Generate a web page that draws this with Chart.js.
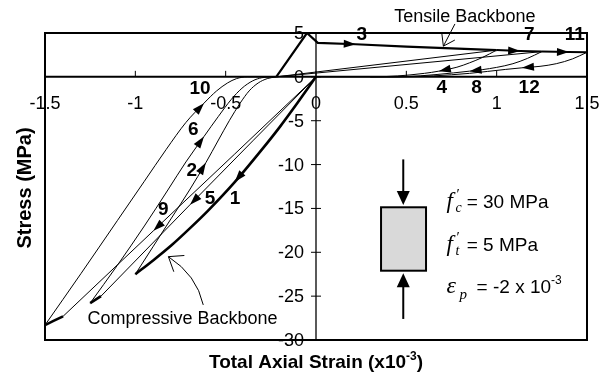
<!DOCTYPE html>
<html>
<head>
<meta charset="utf-8">
<script src="https://cdn.jsdelivr.net/npm/chart.js@4"></script>
<style>
  html, body { margin: 0; padding: 0; background: #fff; }
  canvas { display: block; }
</style>
</head>
<body>
<canvas id="plot1" width="612" height="377"></canvas>
<script>
// strain (x10^-3) , stress (MPa)
const loadC1   = [[0,0],[-0.1,-2.9],[-0.2,-5.7],[-0.3,-8.3],[-0.45,-12.0],[-0.6,-15.3],[-0.7,-17.3],[-0.8,-19.2],[-0.9,-20.9],[-1.0,-22.5]];
const unload2  = [[-1.0,-22.5],[-0.9,-19.3],[-0.8,-16.1],[-0.7,-12.9],[-0.61,-9.8],[-0.54,-7.2],[-0.48,-5.0],[-0.42,-3.0],[-0.37,-1.6],[-0.32,-0.7],[-0.27,-0.2],[-0.22,0]];
const tension3 = [[-0.22,0],[-0.05,5.0],[0.01,3.88],[0.22,3.72],[0.5,3.45],[0.75,3.25],[1.0,3.05]];
const unload4  = [[1.0,3.05],[0.92,2.2],[0.85,1.6],[0.78,1.1],[0.68,0.65],[0.6,0.4],[0.52,0.22],[0.45,0.1],[0.38,0.03],[0.3,0],[0,0]];
const reload5  = [[0,0],[-0.35,-7.3],[-0.697,-14.57],[-1.19,-25.0]];
const bb5      = [[-1.19,-25.0],[-1.22,-25.4],[-1.25,-25.8]];
const unload6  = [[-1.25,-25.8],[-1.1,-21.5],[-0.95,-17.0],[-0.82,-12.9],[-0.72,-9.7],[-0.62,-6.8],[-0.54,-4.5],[-0.47,-2.6],[-0.41,-1.3],[-0.35,-0.45],[-0.3,-0.1],[-0.25,0],[-0.22,0]];
const reload7  = [[-0.22,0],[1.0,3.05]];
const bb7      = [[1.0,3.05],[1.13,2.95],[1.25,2.88]];
const unload8  = [[1.25,2.88],[1.17,2.1],[1.09,1.5],[1.0,1.08],[0.92,0.82],[0.85,0.65],[0.76,0.45],[0.67,0.27],[0.58,0.12],[0.5,0.03],[0.42,0],[0.3,0]];
const reload9  = [[0,0],[-0.45,-8.8],[-0.9,-17.55],[-1.40,-27.3]];
const bb9      = [[-1.40,-27.3],[-1.45,-27.8],[-1.5,-28.3]];
const unload10 = [[-1.5,-28.3],[-1.3,-22.4],[-1.1,-16.4],[-0.95,-11.9],[-0.83,-8.3],[-0.72,-5.2],[-0.62,-3.0],[-0.55,-1.6],[-0.49,-0.7],[-0.44,-0.2],[-0.38,0],[-0.22,0]];
const reload11 = [[-0.22,0],[1.25,2.88]];
const bb11     = [[1.25,2.88],[1.4,2.82],[1.5,2.8]];
const unload12 = [[1.5,2.8],[1.42,2.05],[1.33,1.5],[1.24,1.2],[1.14,1.03],[1.05,0.85],[0.95,0.62],[0.85,0.4],[0.75,0.24],[0.65,0.11],[0.55,0.03],[0.45,0],[0.3,0]];

const xTicks = [-1.5, -1, -0.5, 0, 0.5, 1, 1.5];
const yTicks = [5, 0, -5, -10, -15, -20, -25, -30];

// cycle numbers: text, strain, stress
const cycleLabels = [['1',-0.448,-13.85],['2',-0.688,-10.7],['3',0.253,4.75],['4',0.696,-1.21],
  ['5',-0.587,-13.85],['6',-0.679,-6.07],['7',1.18,4.75],['8',0.889,-1.21],
  ['9',-0.845,-15.2],['10',-0.642,-1.32],['11',1.433,4.75],['12',1.18,-1.21]];

const SANS = '"Liberation Sans", Arial, sans-serif';
const SERIF = '"Liberation Serif", "Times New Roman", serif';

let curva = (pts, ancho, suave) => ({
    data: pts.map(p => ({x: p[0], y: p[1]})),
    showLine: true,
    borderColor: '#000',
    borderWidth: ancho,
    pointRadius: 0,
    fill: false,
    cubicInterpolationMode: suave ? 'monotone' : 'default',
    tension: 0
})

let datasets = [
    curva(loadC1, 2.6, true),      // 0
    curva(unload2, 1, true),       // 1
    curva(tension3, 2.2, false),   // 2
    curva(unload4, 1, true),       // 3
    curva(reload5, 1, false),      // 4
    curva(bb5, 2.6, false),        // 5
    curva(unload6, 1, true),       // 6
    curva(reload7, 1, false),      // 7
    curva(bb7, 2, false),          // 8
    curva(unload8, 1, true),       // 9
    curva(reload9, 1, false),      // 10
    curva(bb9, 2.6, false),        // 11
    curva(unload10, 1, true),      // 12
    curva(reload11, 1, false),     // 13
    curva(bb11, 2, false),         // 14
    curva(unload12, 1, true)       // 15
]

// arrowheads: dataset index, point index (tip), direction from previous point
const flechas = [[0,4],[1,4],[2,3],[3,4],[4,2],[6,5],[8,1],[9,5],[10,2],[12,6],[14,1],[15,4]];

let punta = (ctx, x0, y0, x1, y1, largo, medio) => {
    const a = Math.atan2(y1 - y0, x1 - x0)
    ctx.beginPath()
    ctx.moveTo(x1, y1)
    ctx.lineTo(x1 - largo*Math.cos(a) + medio*Math.sin(a), y1 - largo*Math.sin(a) - medio*Math.cos(a))
    ctx.lineTo(x1 - largo*Math.cos(a) - medio*Math.sin(a), y1 - largo*Math.sin(a) + medio*Math.cos(a))
    ctx.closePath()
    ctx.fill()
}

let puntaAbierta = (ctx, x0, y0, x1, y1, largo, ang) => {
    const a = Math.atan2(y1 - y0, x1 - x0)
    ctx.beginPath()
    ctx.moveTo(x1 - largo*Math.cos(a - ang), y1 - largo*Math.sin(a - ang))
    ctx.lineTo(x1, y1)
    ctx.lineTo(x1 - largo*Math.cos(a + ang), y1 - largo*Math.sin(a + ang))
    ctx.stroke()
}

const ejes = {
    id: 'ejes',
    beforeDatasetsDraw(chart) {
        const {ctx, chartArea: ca, scales: {x, y}} = chart
        const x0 = x.getPixelForValue(0), y0 = y.getPixelForValue(0)
        ctx.save()
        ctx.strokeStyle = '#000'
        ctx.fillStyle = '#000'
        // marco
        ctx.lineWidth = 2
        ctx.strokeRect(ca.left, ca.top, ca.right - ca.left, ca.bottom - ca.top)
        // eje de deformaciones
        ctx.beginPath(); ctx.moveTo(ca.left, y0); ctx.lineTo(ca.right, y0); ctx.stroke()
        // eje de esfuerzos
        ctx.lineWidth = 1.3
        ctx.beginPath(); ctx.moveTo(x0, ca.top); ctx.lineTo(x0, ca.bottom); ctx.stroke()
        // marcas
        ctx.lineWidth = 1
        xTicks.forEach(v => {
            const px = x.getPixelForValue(v)
            ctx.beginPath(); ctx.moveTo(px, y0); ctx.lineTo(px, y0 - 6); ctx.stroke()
        })
        yTicks.forEach(v => {
            const py = y.getPixelForValue(v)
            ctx.beginPath(); ctx.moveTo(x0 - 5, py); ctx.lineTo(x0 + 5, py); ctx.stroke()
        })
        ctx.restore()
    },
    afterDatasetsDraw(chart) {
        const {ctx, scales: {x, y}} = chart
        const x0 = x.getPixelForValue(0), y0 = y.getPixelForValue(0)
        ctx.save()
        ctx.fillStyle = '#000'
        ctx.strokeStyle = '#000'

        // puntas de flecha
        flechas.forEach(([d, i]) => {
            const pts = chart.getDatasetMeta(d).data
            punta(ctx, pts[i-1].x, pts[i-1].y, pts[i].x, pts[i].y, 12, 4)
        })

        // etiquetas de los ejes
        ctx.font = '18px ' + SANS
        ctx.textBaseline = 'middle'
        ctx.textAlign = 'center'
        xTicks.forEach(v => ctx.fillText(String(v), x.getPixelForValue(v), y0 + 27))
        ctx.textAlign = 'right'
        yTicks.forEach(v => ctx.fillText(String(v), x0 - 12, y.getPixelForValue(v) + 1))

        // numeros de ciclo
        ctx.font = 'bold 19px ' + SANS
        ctx.textAlign = 'center'
        cycleLabels.forEach(([t, sx, sy]) => ctx.fillText(t, x.getPixelForValue(sx), y.getPixelForValue(sy)))

        // titulos
        ctx.font = 'bold 19px ' + SANS
        ctx.textBaseline = 'alphabetic'
        ctx.textAlign = 'left'
        const t1 = 'Total Axial Strain (x10', t2 = '-3', t3 = ')'
        const w1 = ctx.measureText(t1).width, w3 = ctx.measureText(t3).width
        ctx.font = 'bold 12px ' + SANS
        const w2 = ctx.measureText(t2).width
        let tx = 316 - (w1 + w2 + w3) / 2
        ctx.font = 'bold 19px ' + SANS
        ctx.fillText(t1, tx, 368)
        ctx.font = 'bold 12px ' + SANS
        ctx.fillText(t2, tx + w1, 360)
        ctx.font = 'bold 19px ' + SANS
        ctx.fillText(t3, tx + w1 + w2, 368)

        ctx.save()
        ctx.translate(25, 188)
        ctx.rotate(-Math.PI / 2)
        ctx.textAlign = 'center'
        ctx.textBaseline = 'middle'
        ctx.font = 'bold 20px ' + SANS
        ctx.fillText('Stress (MPa)', 0, 0)
        ctx.restore()

        // rotulos de las curvas envolventes
        ctx.font = '18px ' + SANS
        ctx.textAlign = 'center'
        ctx.textBaseline = 'middle'
        ctx.fillText('Tensile Backbone', x.getPixelForValue(0.824), y.getPixelForValue(6.86))
        ctx.fillText('Compressive Backbone', x.getPixelForValue(-0.739), y.getPixelForValue(-27.6))

        ctx.lineWidth = 1
        let ax = x.getPixelForValue(0.769), ay = y.getPixelForValue(6.03)
        let bx = x.getPixelForValue(0.705), by = y.getPixelForValue(3.5)
        ctx.beginPath(); ctx.moveTo(ax, ay); ctx.lineTo(bx, by); ctx.stroke()
        puntaAbierta(ctx, ax, ay, bx, by, 13, 0.6)

        ax = x.getPixelForValue(-0.624); ay = y.getPixelForValue(-26.0)
        bx = x.getPixelForValue(-0.817); by = y.getPixelForValue(-20.5)
        const cx = x.getPixelForValue(-0.66), cy = y.getPixelForValue(-22.6)
        ctx.beginPath(); ctx.moveTo(ax, ay); ctx.quadraticCurveTo(cx, cy, bx, by); ctx.stroke()
        puntaAbierta(ctx, cx, cy, bx, by, 16, 0.65)

        // probeta con cargas
        const rl = x.getPixelForValue(0.36), rr = x.getPixelForValue(0.609)
        const rt = y.getPixelForValue(-14.87), rb = y.getPixelForValue(-22.1)
        ctx.fillStyle = '#d9d9d9'
        ctx.fillRect(rl, rt, rr - rl, rb - rt)
        ctx.lineWidth = 2
        ctx.strokeRect(rl, rt, rr - rl, rb - rt)
        ctx.fillStyle = '#000'
        const mx = x.getPixelForValue(0.483)
        ctx.beginPath(); ctx.moveTo(mx, y.getPixelForValue(-9.41)); ctx.lineTo(mx, y.getPixelForValue(-13.5)); ctx.stroke()
        punta(ctx, mx, y.getPixelForValue(-9.41), mx, y.getPixelForValue(-14.6), 14, 6.5)
        ctx.beginPath(); ctx.moveTo(mx, y.getPixelForValue(-27.6)); ctx.lineTo(mx, y.getPixelForValue(-23.5)); ctx.stroke()
        punta(ctx, mx, y.getPixelForValue(-27.6), mx, y.getPixelForValue(-22.4), 14, 6.5)

        // propiedades del material
        const sx = x.getPixelForValue(0.723)
        const filas = [['f', 'c', '= 30 MPa', -14.2, 0.834], ['f', 't', '= 5 MPa', -19.05, 0.834]]
        filas.forEach(([s, sub, txt, sy, ex]) => {
            const by0 = y.getPixelForValue(sy) + 7
            ctx.font = 'italic 23px ' + SERIF
            ctx.textAlign = 'left'
            ctx.textBaseline = 'alphabetic'
            ctx.fillText(s, sx, by0)
            ctx.font = '15px ' + SERIF
            ctx.fillText('\u2032', sx + 10, by0 - 9)
            ctx.font = 'italic 14px ' + SERIF
            ctx.fillText(sub, sx + 9, by0 + 4)
            ctx.font = '19px ' + SANS
            ctx.fillText(txt, x.getPixelForValue(ex), by0)
        })
        const by3 = y.getPixelForValue(-23.9) + 7
        ctx.font = 'italic 24px ' + SERIF
        ctx.fillText('\u03b5', sx, by3)
        ctx.font = 'italic 15px ' + SERIF
        ctx.fillText('p', sx + 13, by3 + 6)
        ctx.font = '19px ' + SANS
        const e1 = '= -2 x 10'
        const ex3 = x.getPixelForValue(0.889)
        ctx.fillText(e1, ex3, by3)
        const we = ctx.measureText(e1).width
        ctx.font = '12px ' + SANS
        ctx.fillText('-3', ex3 + we, by3 - 9)

        ctx.restore()
    }
}

let ctx = document.getElementById('plot1').getContext('2d');

let grafica1 = new Chart(ctx, {
    type: 'scatter',
    data: { datasets: datasets },
    options: {
        responsive: false,
        animation: false,
        layout: { padding: { left: 45, right: 25, top: 33, bottom: 37 } },
        scales: {
            x: { type: 'linear', min: -1.5, max: 1.5, display: false },
            y: { type: 'linear', min: -30, max: 5, display: false }
        },
        plugins: { legend: { display: false }, tooltip: { enabled: false } }
    },
    plugins: [ejes]
});
</script>
</body>
</html>
